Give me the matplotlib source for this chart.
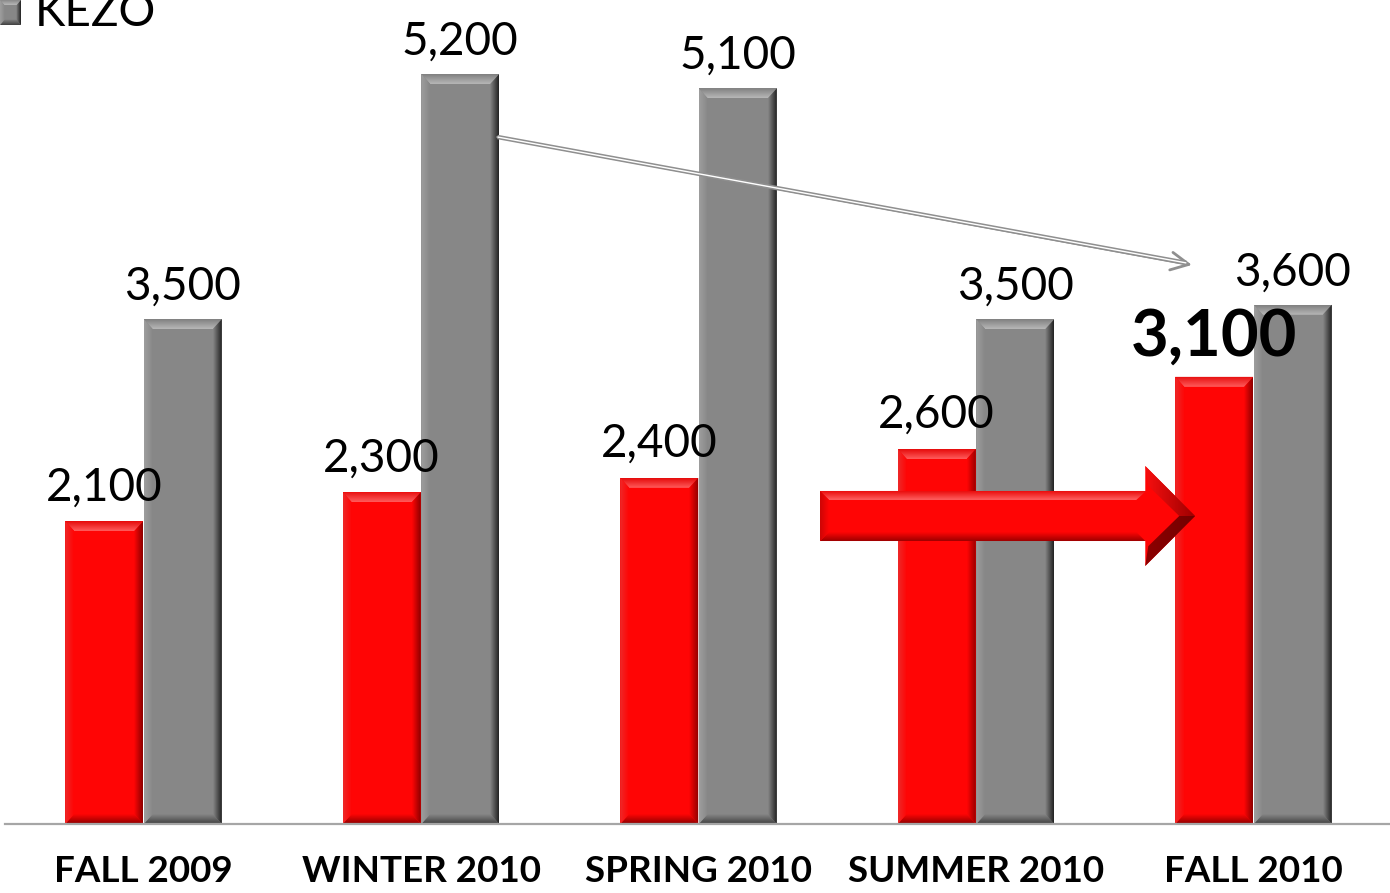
import numpy as np
import matplotlib
matplotlib.use("Agg")
import matplotlib.pyplot as plt
from matplotlib.patches import Polygon

# ---- data -------------------------------------------------------------
categories = ["FALL 2009", "WINTER 2010", "SPRING 2010", "SUMMER 2010", "FALL 2010"]
red_values = [2100, 2300, 2400, 2600, 3100]
gray_values = [3500, 5200, 5100, 3500, 3600]
legend_label = "KEZO"

# ---- style ------------------------------------------------------------
FONT = "Lato"
RED = dict(base=(1.0, 0.02, 0.02), top=((0.90, 0.04, 0.04), (1.0, 0.36, 0.36)),
           right=(1.0, 0.02, 0.02), right_edge=(0.55, 0.0, 0.0),
           left=((0.93, 0.16, 0.16), (1.0, 0.02, 0.02)),
           bottom=((0.55, 0.0, 0.0), (1.0, 0.02, 0.02)))
GRAY = dict(base=(0.53, 0.53, 0.53), top=((0.50, 0.50, 0.50), (0.72, 0.72, 0.72)),
            right=(0.53, 0.53, 0.53), right_edge=(0.13, 0.13, 0.13),
            left=((0.62, 0.62, 0.62), (0.53, 0.53, 0.53)),
            bottom=((0.25, 0.25, 0.25), (0.53, 0.53, 0.53)))


def gradient_fill(ax, verts, c_start, c_end, axis, z):
    """Fill a polygon with a linear gradient (x: left->right, y: top->bottom)."""
    xs = [v[0] for v in verts]
    ys = [v[1] for v in verts]
    t = np.linspace(0, 1, 64)
    cols = np.array(c_start)[None, :] * (1 - t[:, None]) + np.array(c_end)[None, :] * t[:, None]
    arr = cols[None, :, :] if axis == "x" else cols[:, None, :]
    im = ax.imshow(arr, extent=(min(xs), max(xs), min(ys), max(ys)), origin="upper",
                   aspect="auto", interpolation="bilinear", zorder=z)
    clip = Polygon(verts, closed=True, transform=ax.transData, facecolor="none", edgecolor="none")
    im.set_clip_path(clip)


def bevel(ax, rect, pal, bx, by, z):
    x0, y0 = rect.get_x(), rect.get_y()
    x1, y1 = x0 + rect.get_width(), y0 + rect.get_height()
    gradient_fill(ax, [(x0, y1), (x1, y1), (x1 - bx, y1 - by), (x0 + bx, y1 - by)],
                  pal["top"][0], pal["top"][1], "y", z)
    gradient_fill(ax, [(x0, y0), (x1, y0), (x1 - bx, y0 + by), (x0 + bx, y0 + by)],
                  pal["bottom"][1], pal["bottom"][0], "y", z)
    gradient_fill(ax, [(x0, y1), (x0 + bx, y1 - by), (x0 + bx, y0 + by), (x0, y0)],
                  pal["left"][0], pal["left"][1], "x", z)
    gradient_fill(ax, [(x1, y1), (x1, y0), (x1 - bx, y0 + by), (x1 - bx, y1 - by)],
                  pal["right"], pal["right_edge"], "x", z)


# ---- figure -----------------------------------------------------------
fig = plt.figure(figsize=(13.9, 8.93), dpi=100)
ax = fig.add_axes([4.75 / 1390, 69 / 893, 1387.5 / 1390, 824 / 893])
YMAX = 5713
ax.set_xlim(-0.5, 4.5)
ax.set_ylim(0, YMAX)

x = np.arange(len(categories))
width = 0.281
offset = 0.1415
red_bars = ax.bar(x - offset, red_values, width, color=RED["base"], zorder=2)
gray_bars = ax.bar(x + offset, gray_values, width, color=GRAY["base"], zorder=2)

# bevel size: ~9 px horizontally, ~10 px vertically
px_x = 1387.5 / 5.0
px_y = 824 / YMAX
bx, by = 9 / px_x, 10 / px_y
for r in red_bars:
    bevel(ax, r, RED, bx, by, 2.5)
for r in gray_bars:
    bevel(ax, r, GRAY, bx, by, 2.5)

# value labels
for i, (r, v) in enumerate(zip(red_bars, red_values)):
    cx = r.get_x() + r.get_width() / 2
    last = i == len(red_values) - 1
    ax.annotate(f"{v:,}", (cx, v), xytext=(0, 15), textcoords="offset points",
                ha="center", va="baseline", family=FONT,
                fontsize=47 if last else 33, fontweight="bold" if last else "normal",
                color="black", zorder=6)
for r, v in zip(gray_bars, gray_values):
    cx = r.get_x() + r.get_width() / 2
    ax.annotate(f"{v:,}", (cx, v), xytext=(0, 14), textcoords="offset points",
                ha="center", va="baseline", family=FONT, fontsize=33,
                color="black", zorder=6)

# thin hollow trend arrow from the winter peak to fall 2010
a_start = (gray_bars[1].get_x() + gray_bars[1].get_width() - 0.006, 4763)
a_end = (3.778, 3876)
ax.annotate("", xy=a_end, xytext=a_start,
            arrowprops=dict(arrowstyle="->", color="#8f8f8f", lw=2.0,
                            mutation_scale=32, shrinkA=0, shrinkB=0), zorder=4)
ax.plot([a_start[0], a_end[0] - 0.02], [a_start[1], a_end[1] + 14], color="#8f8f8f",
        lw=3.2, solid_capstyle="butt", zorder=4)
ax.plot([a_start[0], a_end[0] - 0.02], [a_start[1], a_end[1] + 14], color="white",
        lw=1.0, solid_capstyle="butt", zorder=4.1)

# red block arrow pointing at the fall 2010 bar
xs, xh, xt = 2.438, 3.61, 3.79
ys0, ys1 = 1962, 2309
yh0, yh1 = 1789, 2482
ym = (ys0 + ys1) / 2
arrow = [(xs, ys0), (xs, ys1), (xh, ys1), (xh, yh1), (xt, ym), (xh, yh0), (xh, ys0)]
ax.add_patch(Polygon(arrow, closed=True, facecolor=RED["base"], edgecolor="none", zorder=5))
abx, aby = 9 / px_x, 9 / px_y
# top, bottom and tail bevels
gradient_fill(ax, [(xs, ys1), (xh + 0.003, ys1), (xh - abx, ys1 - aby), (xs + abx, ys1 - aby)],
              (0.92, 0.05, 0.05), (1.0, 0.38, 0.38), "y", 5.1)
gradient_fill(ax, [(xs, ys0), (xh, ys0), (xh - abx, ys0 + aby), (xs + abx, ys0 + aby)],
              (1.0, 0.02, 0.02), (0.62, 0.0, 0.0), "y", 5.1)
gradient_fill(ax, [(xs, ys0), (xs, ys1), (xs + abx, ys1 - aby), (xs + abx, ys0 + aby)],
              (0.80, 0.02, 0.02), (1.0, 0.02, 0.02), "x", 5.1)
# arrow head bevels
hb = 10 / px_x
gradient_fill(ax, [(xh, yh1), (xt, ym), (xt - hb * 1.6, ym), (xh + hb * 0.3, yh1 - 2.2 * aby)],
              (0.97, 0.06, 0.06), (0.62, 0.0, 0.0), "x", 5.1)
gradient_fill(ax, [(xh, yh0), (xt, ym), (xt - hb * 1.6, ym), (xh + hb * 0.3, yh0 + 2.2 * aby)],
              (0.55, 0.0, 0.0), (0.45, 0.0, 0.0), "x", 5.1)

# axes cosmetics
for side in ("left", "right", "top"):
    ax.spines[side].set_visible(False)
ax.spines["bottom"].set_color("#a6a6a6")
ax.spines["bottom"].set_linewidth(1.6)
ax.spines["bottom"].set_zorder(3)
ax.set_yticks([])
ax.set_xticks(x, categories, family=FONT, fontweight="bold", fontsize=26.5)
ax.tick_params(axis="x", length=0, pad=22)

# legend entry (partly clipped by the top edge)
lax = fig.add_axes([0, 1 - 25 / 893, 21 / 1390, 25 / 893])
lax.set_xlim(0, 1)
lax.set_ylim(0, 1)
lax.axis("off")
sq = lax.bar([0.5], [1.0], 1.0, color=GRAY["base"], zorder=2)
bevel(lax, sq[0], GRAY, 0.22, 0.22, 2.5)
lax.set_xlim(0, 1)
lax.set_ylim(0, 1)
fig.text(35 / 1390, 1 - 26 / 893, legend_label, family=FONT, fontsize=33,
         va="baseline", ha="left")

ax.set_xlim(-0.5, 4.5)
ax.set_ylim(0, YMAX)
fig.savefig("out.png", dpi=100, facecolor="white")
